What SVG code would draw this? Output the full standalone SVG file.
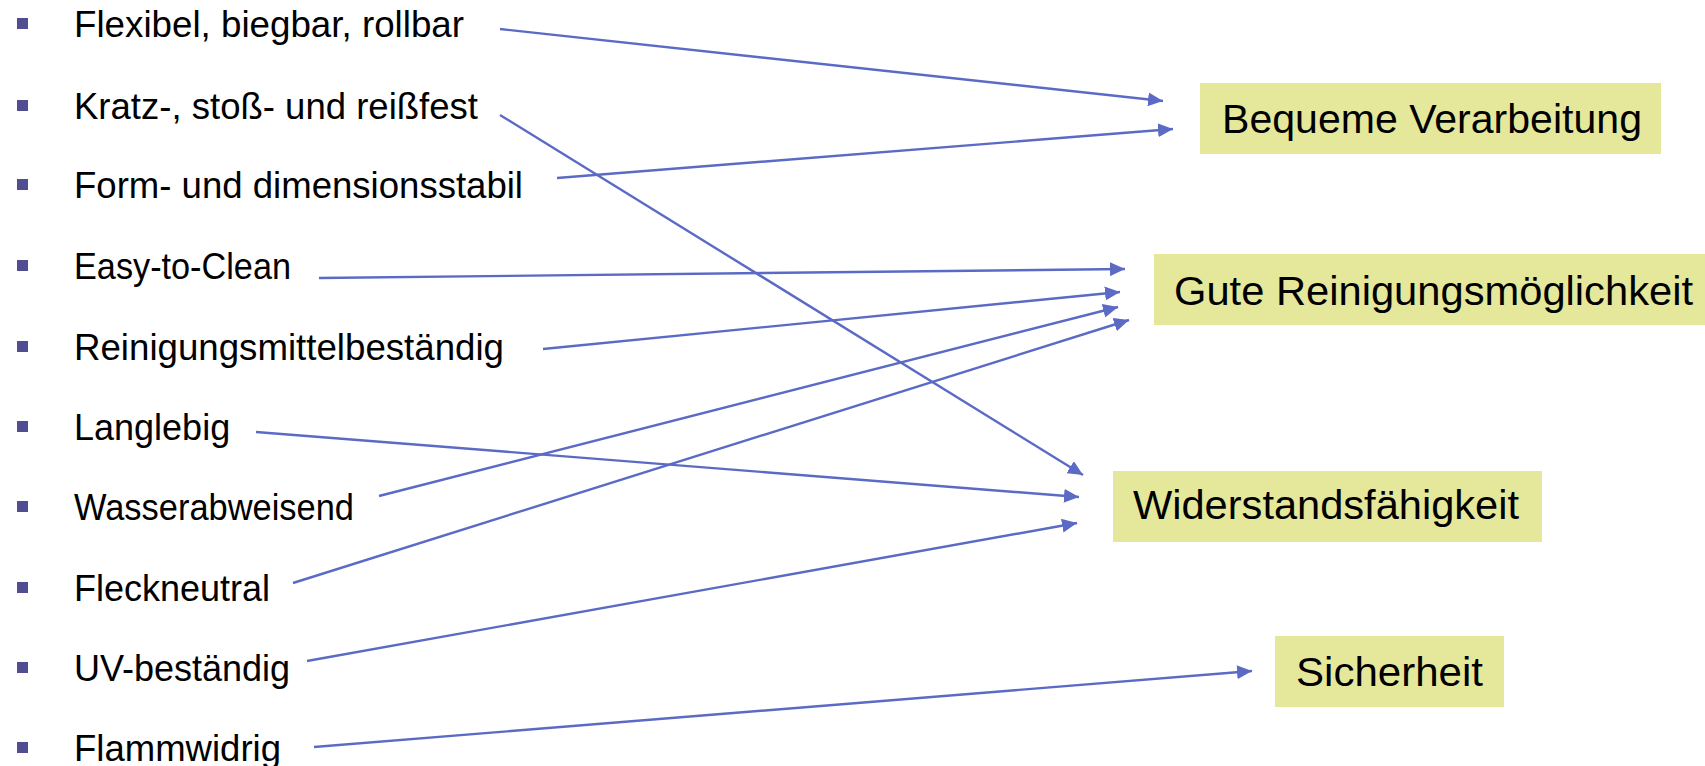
<svg xmlns="http://www.w3.org/2000/svg" width="1705" height="766" viewBox="0 0 1705 766">
<style>
.item{font-family:"Liberation Sans",Arial,sans-serif;font-size:36px;fill:#000}
.bul{fill:#504D92}
.box{fill:#E5E89B}
.lbl{font-family:"Liberation Sans",Arial,sans-serif;font-size:41px;fill:#000}
.con{stroke:#5B6AC5;stroke-width:2.4;fill:none;marker-end:url(#ah)}
</style>
<defs>
<marker id="ah" markerUnits="userSpaceOnUse" markerWidth="16" markerHeight="14" refX="15" refY="7" orient="auto">
<path d="M0,0 L15,7 L0,14 z" fill="#5B6AC5"/>
</marker>
</defs>
<rect width="1705" height="766" fill="#fff"/>
<g id="items">
<g id="i1"><rect class="bul" x="17" y="18" width="11" height="11"/><text class="item" x="74" y="37" textLength="390" lengthAdjust="spacingAndGlyphs">Flexibel, biegbar, rollbar</text></g>
<g id="i2"><rect class="bul" x="17" y="100" width="11" height="11"/><text class="item" x="74" y="119" textLength="404" lengthAdjust="spacingAndGlyphs">Kratz-, stoß- und reißfest</text></g>
<g id="i3"><rect class="bul" x="17" y="179" width="11" height="11"/><text class="item" x="74" y="198" textLength="449" lengthAdjust="spacingAndGlyphs">Form- und dimensionsstabil</text></g>
<g id="i4"><rect class="bul" x="17" y="260" width="11" height="11"/><text class="item" x="74" y="279" textLength="217" lengthAdjust="spacingAndGlyphs">Easy-to-Clean</text></g>
<g id="i5"><rect class="bul" x="17" y="341" width="11" height="11"/><text class="item" x="74" y="360" textLength="430" lengthAdjust="spacingAndGlyphs">Reinigungsmittelbeständig</text></g>
<g id="i6"><rect class="bul" x="17" y="421" width="11" height="11"/><text class="item" x="74" y="440">Langlebig</text></g>
<g id="i7"><rect class="bul" x="17" y="501" width="11" height="11"/><text class="item" x="74" y="520" textLength="280" lengthAdjust="spacingAndGlyphs">Wasserabweisend</text></g>
<g id="i8"><rect class="bul" x="17" y="582" width="11" height="11"/><text class="item" x="74" y="601">Fleckneutral</text></g>
<g id="i9"><rect class="bul" x="17" y="662" width="11" height="11"/><text class="item" x="74" y="681">UV-beständig</text></g>
<g id="i10"><rect class="bul" x="17" y="742" width="11" height="11"/><text class="item" x="74" y="761" textLength="207" lengthAdjust="spacingAndGlyphs">Flammwidrig</text></g>
</g>
<g id="n-bequeme"><rect class="box" x="1200" y="83" width="461" height="71"/><text class="lbl" x="1222" y="133" textLength="420" lengthAdjust="spacingAndGlyphs">Bequeme Verarbeitung</text></g>
<g id="n-gute"><rect class="box" x="1154" y="254" width="551" height="71"/><text class="lbl" x="1174" y="305" textLength="519" lengthAdjust="spacingAndGlyphs">Gute Reinigungsmöglichkeit</text></g>
<g id="n-widerstand"><rect class="box" x="1113" y="471" width="429" height="71"/><text class="lbl" x="1133" y="519" textLength="386" lengthAdjust="spacingAndGlyphs">Widerstandsfähigkeit</text></g>
<g id="n-sicherheit"><rect class="box" x="1275" y="636" width="229" height="71"/><text class="lbl" x="1296" y="686" textLength="187" lengthAdjust="spacingAndGlyphs">Sicherheit</text></g>
<g id="connectors">
<line class="con" x1="500" y1="29" x2="1163" y2="101"/>
<line class="con" x1="557" y1="178" x2="1173" y2="129"/>
<line class="con" x1="500" y1="115" x2="1083" y2="475"/>
<line class="con" x1="319" y1="278" x2="1125" y2="269"/>
<line class="con" x1="543" y1="349" x2="1120" y2="292"/>
<line class="con" x1="379" y1="496" x2="1118" y2="307"/>
<line class="con" x1="293" y1="583" x2="1129" y2="320"/>
<line class="con" x1="256" y1="432" x2="1079" y2="497"/>
<line class="con" x1="307" y1="661" x2="1077" y2="523"/>
<line class="con" x1="314" y1="747" x2="1252" y2="671"/>
</g>
</svg>
